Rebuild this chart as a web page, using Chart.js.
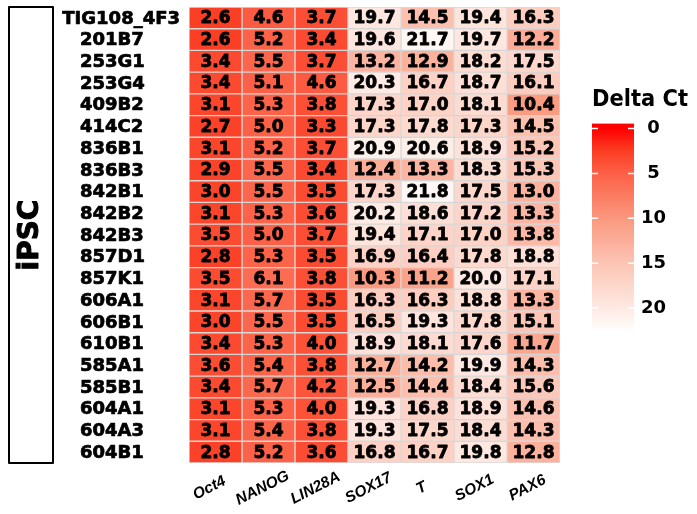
<!DOCTYPE html>
<html>
<head>
<meta charset="utf-8">
<script src="https://cdn.jsdelivr.net/npm/chart.js@4.4.1/dist/chart.umd.min.js"></script>
<style>
  html, body { margin: 0; padding: 0; background: #fff; }
  #wrap { position: relative; width: 697px; height: 514px; overflow: hidden; }
  #heat { position: absolute; left: 0; top: 0; }
  #bar { position: absolute; left: 574px; top: 80px; }
</style>
</head>
<body>
<div id="wrap">
  <canvas id="heat" width="697" height="514"></canvas>
  <canvas id="bar" width="114" height="260"></canvas>
</div>
<script>
const samples = ["TIG108_4F3", "201B7", "253G1", "253G4", "409B2", "414C2", "836B1", "836B3",
  "842B1", "842B2", "842B3", "857D1", "857K1", "606A1", "606B1", "610B1", "585A1", "585B1",
  "604A1", "604A3", "604B1"];
const genes = ["Oct4", "NANOG", "LIN28A", "SOX17", "T", "SOX1", "PAX6"];

const oct4 = [2.6, 2.6, 3.4, 3.4, 3.1, 2.7, 3.1, 2.9, 3.0, 3.1, 3.5, 2.8, 3.5, 3.1, 3.0, 3.4, 3.6, 3.4, 3.1, 3.1, 2.8];
const nanog = [4.6, 5.2, 5.5, 5.1, 5.3, 5.0, 5.2, 5.5, 5.5, 5.3, 5.0, 5.3, 6.1, 5.7, 5.5, 5.3, 5.4, 5.7, 5.3, 5.4, 5.2];
const lin28a = [3.7, 3.4, 3.7, 4.6, 3.8, 3.3, 3.7, 3.4, 3.5, 3.6, 3.7, 3.5, 3.8, 3.5, 3.5, 4.0, 3.8, 4.2, 4.0, 3.8, 3.6];
const sox17 = [19.7, 19.6, 13.2, 20.3, 17.3, 17.3, 20.9, 12.4, 17.3, 20.2, 19.4, 16.9, 10.3, 16.3, 16.5, 18.9, 12.7, 12.5, 19.3, 19.3, 16.8];
const tGene = [14.5, 21.7, 12.9, 16.7, 17.0, 17.8, 20.6, 13.3, 21.8, 18.6, 17.1, 16.4, 11.2, 16.3, 19.3, 18.1, 14.2, 14.4, 16.8, 17.5, 16.7];
const sox1 = [19.4, 19.7, 18.2, 18.7, 18.1, 17.3, 18.9, 18.3, 17.5, 17.2, 17.0, 17.8, 20.0, 18.8, 17.8, 17.6, 19.9, 18.4, 18.9, 18.4, 19.8];
const pax6 = [16.3, 12.2, 17.5, 16.1, 10.4, 14.5, 15.2, 15.3, 13.0, 13.3, 13.8, 18.8, 17.1, 13.3, 15.1, 11.7, 14.3, 15.6, 14.6, 14.3, 12.8];

const colorbarTicks = [0, 5, 10, 15, 20];

const columns = [oct4, nanog, lin28a, sox17, tGene, sox1, pax6];

// red -> white ramp
const stops = [
  [0, [255, 0, 0]],
  [2.5, [251, 62, 36]],
  [5, [252, 96, 70]],
  [10, [250, 152, 126]],
  [15, [252, 196, 180]],
  [20, [254, 233, 226]],
  [22.5, [255, 253, 252]]
];

function heatColor(v) {
  if (v <= stops[0][0]) return "rgb(" + stops[0][1].join(",") + ")";
  for (let i = 1; i < stops.length; i++) {
    if (v <= stops[i][0]) {
      const a = stops[i - 1], b = stops[i];
      const t = (v - a[0]) / (b[0] - a[0]);
      const c = a[1].map((x, k) => Math.round(x + (b[1][k] - x) * t));
      return "rgb(" + c.join(",") + ")";
    }
  }
  return "rgb(" + stops[stops.length - 1][1].join(",") + ")";
}

// fill + thin stroke, the original text is heavier than plain bold
function heavyText(ctx, s, x, y, w) {
  ctx.lineWidth = w;
  ctx.strokeStyle = "#000";
  ctx.lineJoin = "round";
  ctx.strokeText(s, x, y);
  ctx.fillText(s, x, y);
}

Chart.defaults.font.family = "'DejaVu Sans', sans-serif";
Chart.defaults.color = "#000";

const datasets = genes.map((g, j) => ({
  label: g,
  data: samples.map((s, i) => ({ x: [j, j + 1], y: s, v: columns[j][i] })),
  backgroundColor: ctx => ctx.raw ? heatColor(ctx.raw.v) : "#fff",
  borderColor: "rgba(205,205,205,0.75)",
  borderWidth: 1,
  borderSkipped: false,
  grouped: false,
  barPercentage: 1,
  categoryPercentage: 1
}));

const heatLabels = {
  id: "heatLabels",
  afterDatasetsDraw(chart) {
    const ctx = chart.ctx;
    ctx.save();
    ctx.fillStyle = "#000";
    ctx.textAlign = "center";
    ctx.textBaseline = "middle";
    ctx.font = "bold 17px 'DejaVu Sans'";
    chart.data.datasets.forEach((ds, i) => {
      chart.getDatasetMeta(i).data.forEach((bar, k) => {
        const p = bar.getCenterPoint();
        heavyText(ctx, ds.data[k].v.toFixed(1), p.x, p.y + 1, 0.8);
      });
    });
    ctx.restore();
  },
  afterDraw(chart) {
    const ctx = chart.ctx;
    const xs = chart.scales.x, ys = chart.scales.y;
    const area = chart.chartArea;
    ctx.save();
    ctx.fillStyle = "#000";

    // row labels
    ctx.font = "bold 18px 'DejaVu Sans'";
    ctx.textAlign = "left";
    ctx.textBaseline = "middle";
    samples.forEach((s, i) => {
      const w = ctx.measureText(s).width;
      heavyText(ctx, s, Math.min(80, 180 - w), ys.getPixelForValue(i) + 1, 0.7);
    });

    // gene labels
    ctx.font = "italic bold 15.5px 'Liberation Sans'";
    ctx.textAlign = "center";
    genes.forEach((g, j) => {
      ctx.save();
      ctx.translate(xs.getPixelForValue(j + 0.5) - 6, area.bottom + 25);
      ctx.rotate(-27 * Math.PI / 180);
      ctx.fillText(g, 0, 0);
      ctx.restore();
    });

    // group box
    ctx.lineWidth = 2;
    ctx.strokeStyle = "#000";
    ctx.strokeRect(9, area.top, 44, area.bottom - area.top);
    ctx.font = "bold 28px 'DejaVu Sans'";
    ctx.translate(31, (area.top + area.bottom) / 2);
    ctx.rotate(-Math.PI / 2);
    heavyText(ctx, "iPSC", 0, 0, 1);
    ctx.restore();
  }
};

new Chart(document.getElementById("heat"), {
  type: "bar",
  data: { labels: samples, datasets: datasets },
  options: {
    responsive: false,
    animation: false,
    indexAxis: "y",
    layout: { padding: { left: 189, right: 137, top: 7, bottom: 51 } },
    scales: {
      x: { type: "linear", min: 0, max: 7, display: false },
      y: { type: "category", display: false }
    },
    plugins: { legend: { display: false }, tooltip: { enabled: false } }
  },
  plugins: [heatLabels]
});

const colorbar = {
  id: "colorbar",
  beforeDatasetsDraw(chart) {
    const ctx = chart.ctx;
    const a = chart.chartArea;
    const ys = chart.scales.y;
    const grad = ctx.createLinearGradient(0, a.top, 0, a.bottom);
    stops.forEach(s => {
      const f = (ys.getPixelForValue(s[0]) - a.top) / (a.bottom - a.top);
      grad.addColorStop(Math.max(0, Math.min(1, f)), heatColor(s[0]));
    });
    ctx.save();
    ctx.fillStyle = grad;
    ctx.fillRect(a.left, a.top, a.right - a.left, a.bottom - a.top);
    ctx.strokeStyle = "#fff";
    ctx.lineWidth = 1.5;
    colorbarTicks.forEach(v => {
      const y = ys.getPixelForValue(v);
      ctx.beginPath();
      ctx.moveTo(a.left, y); ctx.lineTo(a.left + 6, y);
      ctx.moveTo(a.right - 6, y); ctx.lineTo(a.right, y);
      ctx.stroke();
    });
    ctx.restore();
  }
};

new Chart(document.getElementById("bar"), {
  type: "bar",
  data: { labels: [""], datasets: [] },
  options: {
    responsive: false,
    animation: false,
    layout: { padding: { left: 18, right: 0, top: 0, bottom: 10 } },
    scales: {
      x: { display: false },
      y: {
        type: "linear",
        position: "right",
        reverse: true,
        min: -0.55,
        max: 22.45,
        afterBuildTicks: s => { s.ticks = colorbarTicks.map(v => ({ value: v })); },
        afterFit: s => { s.width = 54; s.paddingTop = 0; s.paddingBottom = 0; },
        ticks: { font: { size: 18, weight: "bold" }, color: "#000", padding: 7, crossAlign: "center" },
        grid: { display: false, drawTicks: false },
        border: { display: false }
      }
    },
    plugins: {
      legend: { display: false },
      tooltip: { enabled: false },
      title: {
        display: true,
        text: "Delta Ct",
        color: "#000",
        font: { size: 23, weight: "bold" },
        padding: { top: 6, bottom: 10 }
      }
    }
  },
  plugins: [colorbar]
});
</script>
</body>
</html>
